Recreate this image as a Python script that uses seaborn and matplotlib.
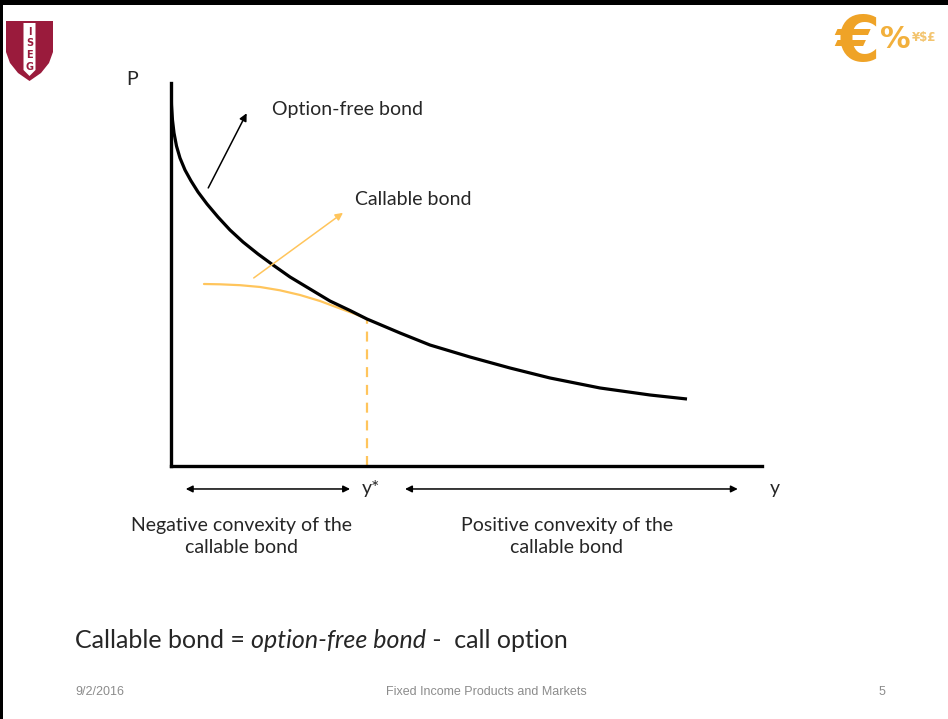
import matplotlib
matplotlib.use("Agg")
import matplotlib.pyplot as plt
from matplotlib.patches import Polygon, Rectangle
import pandas as pd
import seaborn as sns

# Price/yield curves (arbitrary units: yield 0-10, price 0-10)
opt_free_yield = [0.003, 0.008, 0.025, 0.051, 0.093, 0.152, 0.237, 0.338,
                  0.457, 0.609, 0.795, 0.998, 1.218, 1.472, 1.726, 2.014,
                  2.352, 2.690, 3.029, 3.316, 3.875, 4.382, 5.059, 5.736,
                  6.413, 7.259, 8.105, 8.731]
opt_free_price = [9.77, 9.426, 9.034, 8.695, 8.355, 8.042, 7.728, 7.446,
                  7.154, 6.841, 6.501, 6.162, 5.849, 5.535, 5.248, 4.935,
                  4.621, 4.308, 4.060, 3.838, 3.473, 3.159, 2.846, 2.559,
                  2.298, 2.037, 1.854, 1.749]

callable_yield = [0.558, 0.829, 1.168, 1.506, 1.844, 2.183, 2.521, 2.860,
                  3.113, 3.316]
callable_price = [4.752, 4.744, 4.721, 4.674, 4.587, 4.465, 4.308, 4.112,
                  3.969, 3.838]

y_star = 3.316
p_star = 3.838

curve_labels = ["Option-free bond", "Callable bond"]
region_labels = ["Negative convexity of the\ncallable bond",
                 "Positive convexity of the\ncallable bond"]
axis_labels = ["P", "y", "y*"]
footer_texts = ["9/2/2016", "Fixed Income Products and Markets", "5"]

sns.set_theme(style="white")
plt.rcParams["font.family"] = ["Lato", "DejaVu Sans"]

BLACK = "#000000"
ORANGE = "#FFC55C"
CRIMSON = "#9A1B3C"
GOLD = "#EFA327"

W, H = 948, 719
fig = plt.figure(figsize=(W / 100, H / 100), dpi=100)
fig.patch.set_facecolor("white")

# slide decoration layer in pixel units
deco = fig.add_axes([0, 0, 1, 1])
deco.set_xlim(0, W)
deco.set_ylim(H, 0)
deco.axis("off")
deco.add_patch(Rectangle((0, 0), W, 5, color="black", lw=0))
deco.add_patch(Rectangle((0, 0), 3, H, color="black", lw=0))

# shield logo
shield = [(6, 21), (53, 21), (53, 52), (49, 63), (41, 73), (29.5, 81),
          (18, 73), (10, 63), (6, 52)]
deco.add_patch(Polygon(shield, closed=True, color=CRIMSON, lw=0))
stripe = [(23.5, 23), (35.5, 23), (35.5, 70), (29.5, 76), (23.5, 70)]
deco.add_patch(Polygon(stripe, closed=True, color="white", lw=0))
for letter, yy in zip("ISEG", [32, 43.5, 55, 66.5]):
    deco.text(29.5, yy, letter, ha="center", va="center", color=CRIMSON,
              fontsize=7, fontweight="bold", family="DejaVu Sans")

# currency logo
deco.text(857, 43, "€", ha="center", va="center", color=GOLD, fontsize=46,
          fontweight="bold", family="DejaVu Sans")
deco.text(895, 40, "%", ha="center", va="center", color="#F2B03C",
          fontsize=22, fontweight="bold", family="DejaVu Sans")
deco.text(924, 38, "¥$£", ha="center", va="center", color="#F3C46E",
          fontsize=8.5, fontweight="bold", family="DejaVu Sans")

# chart area
x0, x1, y0, y1 = 171, 762, 466, 83
ax = fig.add_axes([x0 / W, (H - y0) / H, (x1 - x0) / W, (y0 - y1) / H])
ax.set_xlim(0, 10)
ax.set_ylim(0, 10)
ax.set_facecolor("none")
for side in ["top", "right"]:
    ax.spines[side].set_visible(False)
for side in ["left", "bottom"]:
    ax.spines[side].set_color(BLACK)
    ax.spines[side].set_linewidth(2.4)
ax.set_xticks([])
ax.set_yticks([])

df_free = pd.DataFrame({"yield": opt_free_yield, "price": opt_free_price})
df_call = pd.DataFrame({"yield": callable_yield, "price": callable_price})

ax.plot([y_star, y_star], [0, p_star], color=ORANGE, lw=1.6,
        dashes=(4.5, 3.5), zorder=1)
sns.lineplot(data=df_call, x="yield", y="price", ax=ax, color=ORANGE,
             lw=1.6, estimator=None, sort=False, zorder=2,
             solid_joinstyle="round", solid_capstyle="round")
sns.lineplot(data=df_free, x="yield", y="price", ax=ax, color=BLACK,
             lw=2.3, estimator=None, sort=False, zorder=3,
             solid_joinstyle="round", solid_capstyle="butt")
ax.set_xlabel("")
ax.set_ylabel("")

FS = 14
ax.annotate("", xy=(1.28, 9.21), xytext=(0.63, 7.26),
            arrowprops=dict(arrowstyle="-|>", color=BLACK, lw=1.1,
                            mutation_scale=11, shrinkA=0, shrinkB=0))
ax.annotate("", xy=(2.91, 6.61), xytext=(1.40, 4.91),
            arrowprops=dict(arrowstyle="-|>", color=ORANGE, lw=1.1,
                            mutation_scale=11, shrinkA=0, shrinkB=0))
ax.text(1.71, 9.30, curve_labels[0], ha="left", va="center", fontsize=FS)
ax.text(3.11, 6.97, curve_labels[1], ha="left", va="center", fontsize=FS)

ax.text(-0.66, 10.10, axis_labels[0], ha="center", va="center", fontsize=FS)
ax.text(10.22, -0.6, axis_labels[1], ha="center", va="center", fontsize=FS)
ax.text(3.38, -0.6, axis_labels[2], ha="center", va="center", fontsize=FS)

for xa, xb in [(0.25, 3.03), (3.96, 9.59)]:
    ax.annotate("", xy=(xb, -0.6), xytext=(xa, -0.6), annotation_clip=False,
                arrowprops=dict(arrowstyle="<|-|>", color=BLACK, lw=1.1,
                                mutation_scale=10, shrinkA=0, shrinkB=0))

ax.text(1.20, -1.83, region_labels[0], ha="center", va="center",
        fontsize=FS, linespacing=1.35)
ax.text(6.70, -1.83, region_labels[1], ha="center", va="center",
        fontsize=FS, linespacing=1.35)

# identity line under the chart, with the middle term in italics
renderer = fig.canvas.get_renderer()
parts = [("Callable bond = ", "normal"), ("option-free bond", "italic"),
         (" -  call option", "normal")]
xp = 75
for txt, style in parts:
    t = deco.text(xp, 640, txt, ha="left", va="center", fontsize=18,
                  style=style)
    bb = t.get_window_extent(renderer=renderer)
    xp += bb.width

foot_font = ["Liberation Sans Narrow", "Liberation Sans"]
deco.text(75, 692, footer_texts[0], ha="left", va="center", fontsize=9,
          color="#8C8C8C", family=foot_font)
deco.text(486, 692, footer_texts[1], ha="center", va="center", fontsize=9,
          color="#8C8C8C", family=foot_font)
deco.text(882, 692, footer_texts[2], ha="center", va="center", fontsize=9,
          color="#8C8C8C", family=foot_font)

fig.savefig("out.png", dpi=100, facecolor="white")
